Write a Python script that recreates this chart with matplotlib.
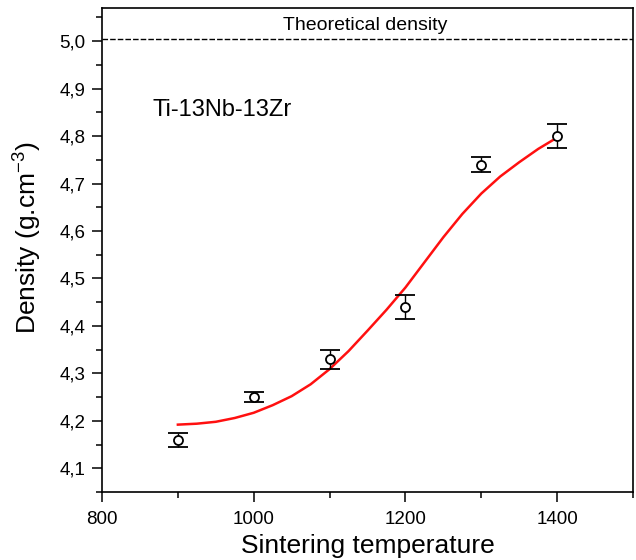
import matplotlib
matplotlib.use("Agg")
import matplotlib.pyplot as plt
from matplotlib.ticker import MultipleLocator, FuncFormatter

plt.rcParams['font.family'] = ['Liberation Sans', 'DejaVu Sans']
plt.rcParams['mathtext.default'] = 'regular'

# Measured data
temps = [900, 1000, 1100, 1200, 1300, 1400]
density = [4.16, 4.25, 4.33, 4.44, 4.74, 4.80]
density_err = [0.015, 0.01, 0.02, 0.025, 0.015, 0.025]

# Fitted curve
fit_t = [900, 925, 950, 975, 1000, 1025, 1050, 1075, 1100, 1125, 1150,
         1175, 1200, 1225, 1250, 1275, 1300, 1325, 1350, 1375, 1400]
fit_d = [4.192, 4.194, 4.198, 4.206, 4.217, 4.233, 4.252, 4.277, 4.309, 4.347, 4.390,
         4.434, 4.481, 4.534, 4.587, 4.636, 4.679, 4.715, 4.745, 4.773, 4.797]

theoretical = 5.004

fig = plt.figure(figsize=(6.36, 5.6), dpi=100)
ax = fig.add_axes([0.1604, 0.1214, 0.8349, 0.8643])

ax.axhline(theoretical, color='black', lw=1.0, ls=(0, (4, 1.5)))
ax.text(1147, theoretical + 0.012, 'Theoretical density', ha='center', va='bottom', fontsize=14)

ax.plot(fit_t, fit_d, color='#ff1010', lw=1.8, zorder=2)
ax.errorbar(temps, density, yerr=density_err, fmt='o', mfc='white', mec='black',
            ecolor='black', ms=6.5, mew=1.3, capsize=7, elinewidth=1, capthick=1, zorder=3)

ax.text(866, 4.855, 'Ti-13Nb-13Zr', fontsize=17, ha='left', va='center')

ax.set_xlim(800, 1500)
ax.set_ylim(4.05, 5.07)
ax.xaxis.set_major_locator(MultipleLocator(200))
ax.xaxis.set_minor_locator(MultipleLocator(100))
ax.yaxis.set_major_locator(MultipleLocator(0.1))
ax.yaxis.set_minor_locator(MultipleLocator(0.05))
ax.yaxis.set_major_formatter(FuncFormatter(lambda v, p: f'{v:.1f}'.replace('.', ',')))

ax.tick_params(which='both', direction='out', top=False, right=False, labelsize=13.5)
ax.tick_params(which='major', length=7, width=1.1)
ax.tick_params(which='minor', length=4.5, width=1.1)
ax.tick_params(axis='x', which='major', pad=7)
ax.tick_params(axis='y', which='major', pad=5)
for s in ax.spines.values():
    s.set_linewidth(1.2)

ax.set_xlabel('Sintering temperature', fontsize=19, labelpad=4)
ax.set_ylabel('Density (g.cm$^{-3}$)', fontsize=19, labelpad=10)
ax.yaxis.set_label_coords(-0.11, 0.525)

fig.savefig('out.png', dpi=100)
